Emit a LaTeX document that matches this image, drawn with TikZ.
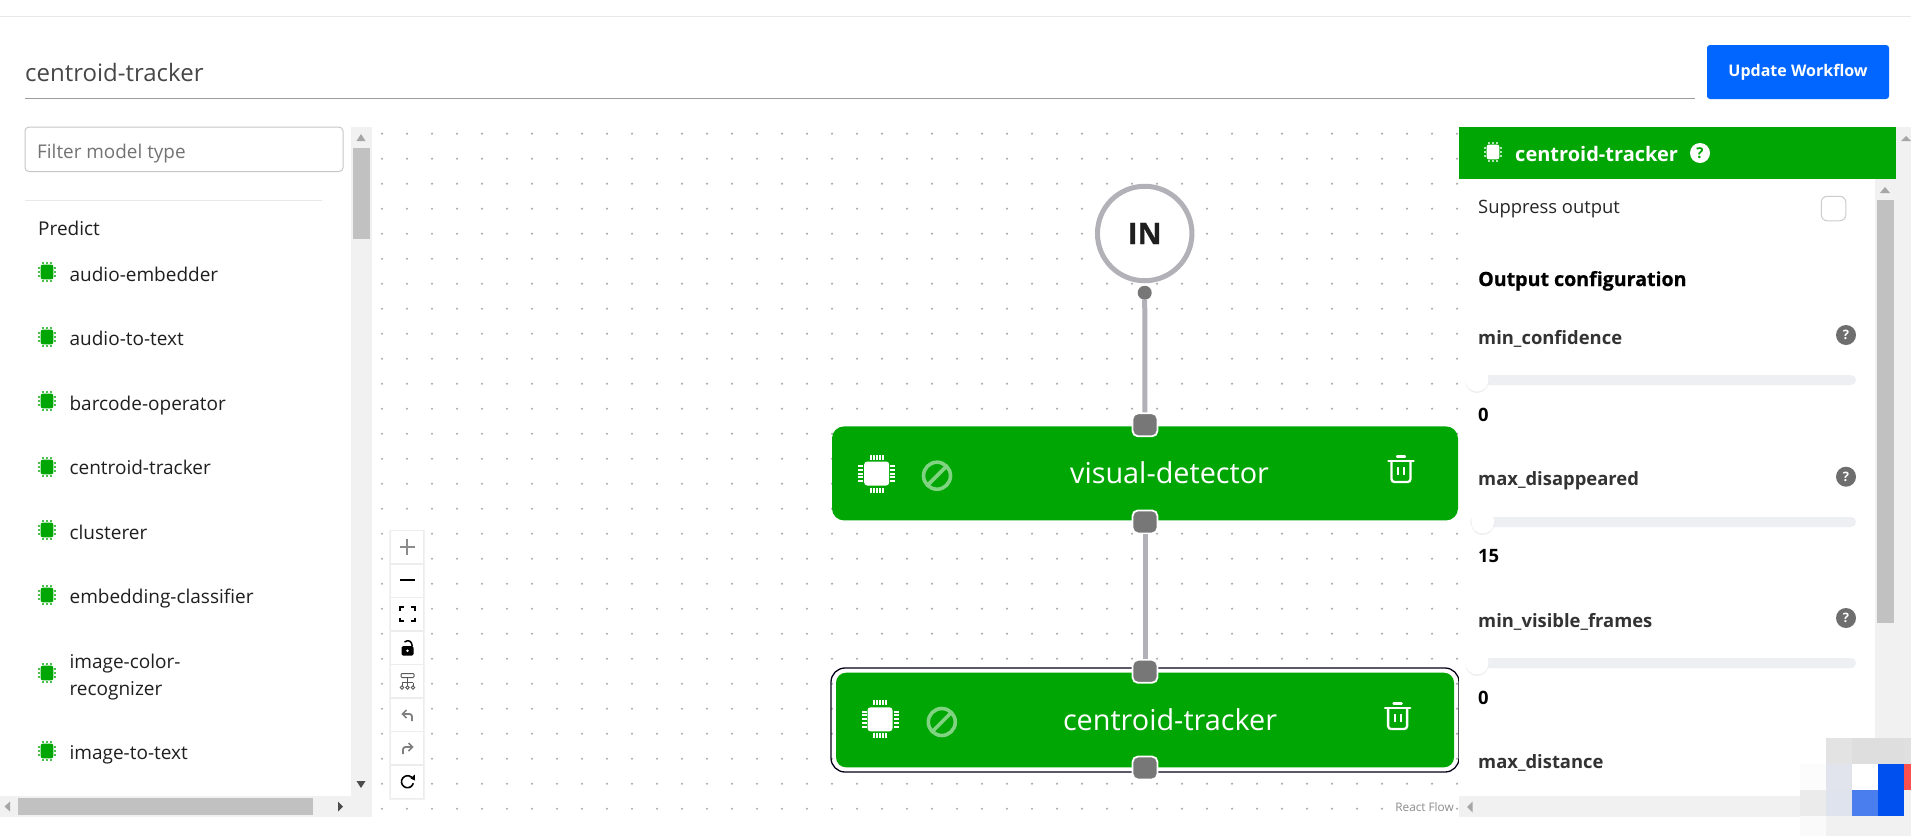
\documentclass[tikz,border=0pt]{standalone}
\usepackage{fontspec}
\setmainfont{Open Sans}
\newfontfamily\heavyfont[BoldFeatures={FakeBold=0.7}]{Open Sans}
\usetikzlibrary{positioning,shadows}
\definecolor{flowgreen}{HTML}{00A604}
\definecolor{bangreen}{HTML}{80D381}
\definecolor{edgegray}{HTML}{B1B1B7}
\definecolor{portgray}{HTML}{777777}
\definecolor{trackgray}{HTML}{F1F1F1}
\definecolor{thumbgray}{HTML}{C1C1C1}
\definecolor{slidergray}{HTML}{EEEFF3}
\definecolor{updateblue}{HTML}{0066FF}
\definecolor{badgepale}{HTML}{E1E4ED}
\definecolor{badgepaler}{HTML}{DFE3EE}
\definecolor{badgeblue}{HTML}{0050EF}
\definecolor{badgesoft}{HTML}{4A7EEF}
\definecolor{badgered}{HTML}{FF5050}
\newcommand{\fsize}[1]{\fontsize{#1}{#1}\selectfont}
\tikzset{
    chip/.pic={
        \fill[pic actions, rounded corners=3pt] (-12.5,-12) rectangle (12.5,12);
        \foreach \t in {-6,-3,0,3,6} {
            \fill[pic actions] (\t-1,-19) rectangle (\t+1,-14);
            \fill[pic actions] (\t-1,14) rectangle (\t+1,19);
            \fill[pic actions] (-18.5,\t*1.3-1) rectangle (-13.5,\t*1.3+1);
            \fill[pic actions] (13.5,\t*1.3-1) rectangle (18.5,\t*1.3+1);
        }
    },
    chipsmall/.pic={
        \fill[pic actions, rounded corners=2pt] (-6.3,-7.3) rectangle (6.3,7.3);
        \foreach \t in {-3.6,0,3.6} {
            \fill[pic actions, opacity=.7] (\t-1,-9.7) rectangle (\t+1,-7.6);
            \fill[pic actions, opacity=.7] (\t-1,7.6) rectangle (\t+1,9.7);
            \fill[pic actions, opacity=.7] (-9,\t-1) rectangle (-6.7,\t+1);
            \fill[pic actions, opacity=.7] (6.7,\t-1) rectangle (9,\t+1);
        }
    },
    trash/.pic={
        \draw[white, line width=2.3pt, line cap=round, rounded corners=3pt] (-9.5,-7) -- (-9.5,13) -- (9.5,13) -- (9.5,-7);
        \draw[white, line width=2.6pt, line cap=round] (-12.5,-8) -- (12.5,-8);
        \draw[white, line width=2.3pt, line cap=round] (-4,-12.5) -- (4,-12.5);
        \draw[white, line width=2pt] (-3,-2) -- (-3,6) (3,-2) -- (3,6);
    },
    ban/.pic={
        \draw[bangreen, line width=3.6pt] (0,0) circle (13.5pt);
        \draw[bangreen, line width=3.6pt] (9.5,-9.5) -- (-9.5,9.5);
    },
}
\tikzstyle{block} = [draw=none, fill=flowgreen, rounded corners=12pt, minimum width=626pt, minimum height=94pt, inner sep=0pt]
\tikzstyle{blocktext} = [text=white, font=\fsize{28.8}, inner sep=0pt, anchor=base]
\tikzstyle{port} = [draw=white, line width=1.8pt, fill=portgray, rounded corners=5.5pt, minimum width=25pt, minimum height=23pt, inner sep=0pt, outer sep=1pt]
\tikzstyle{wire} = [edgegray, line width=5pt]
\tikzstyle{gridtext} = [anchor=base west, inner sep=0pt]
\tikzstyle{modeltext} = [gridtext, text=black!88, font=\fsize{19}]
\tikzstyle{optname} = [gridtext, text=black!80, font=\fsize{18.4}\bfseries]
\tikzstyle{optvalue} = [gridtext, text=black, font=\fsize{18.4}\bfseries]
\tikzstyle{helpdot} = [circle, fill=black!57, text=white, minimum size=20pt, inner sep=0pt, font=\fsize{13}\bfseries]
\tikzstyle{knob} = [circle, fill=white, minimum size=23pt, inner sep=0pt, drop shadow={opacity=.13, shadow xshift=0pt, shadow yshift=-1.5pt}]
\tikzstyle{tool} = [draw=black!7, fill=white, minimum width=33pt, minimum height=32.8pt, inner sep=0pt, line width=0.7pt]
\begin{document}
\begin{tikzpicture}[x=1pt, y=-1pt]
    \useasboundingbox (0,0) rectangle (1911,836);
    \fill[white] (0,0) rectangle (1911,836);

    % top bar
    \draw[black!9, line width=1pt] (0,16.5) -- (1911,16.5);
    \node[gridtext, text=black!72, font=\fsize{24}] (title) at (25,81.5) {centroid-tracker};
    \draw[black!38, line width=1pt] (25,98.7) -- (1695,98.7);
    \node[fill=updateblue, minimum width=182pt, minimum height=54pt, inner sep=0pt, rounded corners=3pt, text=white, font=\fsize{16}\bfseries] (update) at (1798,72) {Update Workflow};

    % background dots
    \foreach \i in {0,...,43} {
        \foreach \j in {0,...,27} {
            \fill[black!33] (382+25*\i,133.7+25*\j) circle (1.2pt);
        }
    }

    % left list
    \node[draw=black!22, line width=1pt, rounded corners=4pt, minimum width=318pt, minimum height=44.5pt, inner sep=0pt] (filterbox) at (184,149.3) {};
    \node[gridtext, text=black!55, font=\fsize{18.9}] (filter) at (37,158) {Filter model type};
    \draw[black!9, line width=1pt] (25,200.5) -- (322,200.5);
    \node[modeltext] (predict) at (38,235) {Predict};

    \path[fill=flowgreen] (47,272) pic {chipsmall} (47,337) pic {chipsmall} (47,401) pic {chipsmall}
        (47,467) pic {chipsmall} (47,530) pic {chipsmall} (47,595) pic {chipsmall}
        (47,673) pic {chipsmall} (47,751) pic {chipsmall};
    \node[modeltext] (m1) at (69.4,281) {audio-embedder};
    \node[modeltext] (m2) at (69.4,345.3) {audio-to-text};
    \node[modeltext] (m3) at (69.4,410) {barcode-operator};
    \node[modeltext] (m4) at (69.4,474) {centroid-tracker};
    \node[modeltext] (m5) at (69.4,539) {clusterer};
    \node[modeltext] (m6) at (69.4,603) {embedding-classifier};
    \node[modeltext] (m7) at (69.4,668) {image-color-};
    \node[modeltext] (m7b) at (69.4,695) {recognizer};
    \node[modeltext] (m8) at (69.4,759) {image-to-text};

    % left scrollbars
    \fill[trackgray] (351,127) rectangle (371.5,817);
    \fill[trackgray] (0,796) rectangle (351,817);
    \fill[thumbgray] (352.6,148) rectangle (370,239);
    \fill[thumbgray] (18,798) rectangle (313,815);
    \fill[black!35] (361,134) -- (365.5,141) -- (356.5,141) -- cycle;
    \fill[black!70] (361,788) -- (365.5,781) -- (356.5,781) -- cycle;
    \fill[black!35] (4.5,806.5) -- (10,801.5) -- (10,811.5) -- cycle;
    \fill[black!70] (343,806.5) -- (338,801.5) -- (338,811.5) -- cycle;

    % flow controls
    \fill[black!5] (389,529.5) rectangle (425,800);
    \node[tool] (zoomin) at (407,547) {};
    \node[tool, below=0pt of zoomin] (zoomout) {};
    \node[tool, below=0pt of zoomout] (fit) {};
    \node[tool, below=0pt of fit] (lock) {};
    \node[tool, below=0pt of lock] (layout) {};
    \node[tool, below=0pt of layout] (undo) {};
    \node[tool, below=0pt of undo] (redo) {};
    \node[tool, below=0pt of redo] (reload) {};
    \draw[black!45, line width=1.6pt] (399.5,546.7) -- (414.5,546.7) (407,539) -- (407,554.5);
    \draw[black, line width=2pt] (400,579.7) -- (415,579.7);
    \draw[black, line width=1.9pt] (400,610.5) |- (404,607) (411,607) -| (415,610.5) (415,617.5) |- (411,621) (404,621) -| (400,617.5);
    \fill[black, rounded corners=1.5pt] (401.5,646) rectangle (413.5,655.5);
    \fill[white] (407.5,650.7) circle (1.3pt);
    \draw[black, line width=1.5pt] (404.5,642) .. controls (408,639.5) and (412,640.5) .. (412.3,646.5);
    \draw[black!65, line width=1pt, rounded corners=1pt] (401,673.5) rectangle (414,677.5);
    \draw[black!65, line width=1pt] (407.5,677.5) -- (407.5,686) (402,682.5) -- (413,682.5) (402,682.5) -- (402,685.5) (413,682.5) -- (413,685.5);
    \draw[black!65, line width=.9pt] (402,687.5) circle (1.8pt) (407.5,687.5) circle (1.8pt) (413,687.5) circle (1.8pt);
    \draw[black!50, line width=1.8pt, rounded corners=2.5pt] (412,721) -- (412,714) -- (403,714);
    \draw[black!50, line width=1.6pt] (406.5,710) -- (402.5,714) -- (406.5,718);
    \draw[black!50, line width=1.8pt, rounded corners=2.5pt] (403,754) -- (403,747) -- (412,747);
    \draw[black!50, line width=1.6pt] (408.5,743) -- (412.5,747) -- (408.5,751);
    \draw[black, line width=1.6pt] (412.7,778.7) arc[start angle=30, end angle=345, radius=6pt];
    \fill[black] (410.5,778.5) -- (414.8,774.5) -- (415,780.5) -- cycle;

    % nodes
    \node[circle, draw=edgegray, line width=5pt, fill=white, minimum size=94.5pt, inner sep=0pt, text=black!88, font=\fsize{29.5}\heavyfont\bfseries] (in) at (1144.7,233.5) {\raisebox{-2.5pt}{IN}};
    \node[circle, fill=portgray, minimum size=14pt, inner sep=0pt, below=0pt of in.south, yshift=-2.3pt] (indot) {};
    \node[block] (vd) at (1145,473.4) {};
    \node[port, yshift=1.4pt] (vdin) at (vd.north) {};
    \node[port, yshift=-1.3pt] (vdout) at (vd.south) {};
    \node[blocktext] (vdlabel) at (1169.5,483) {visual-detector};
    \path[fill=white] (876.7,473.5) pic {chip};
    \path (937,475.7) pic {ban};
    \path (1401,469) pic {trash};

    \node[draw=black!90!blue, line width=1.3pt, rounded corners=14pt, minimum width=628pt, minimum height=104pt, inner sep=0pt] (ctframe) at (1145,720) {};
    \node[block, minimum width=618pt, minimum height=94.6pt, rounded corners=10pt] (ct) at (1145,720) {};
    \node[port] (ctin) at (1145,671.3) {};
    \node[port] (ctout) at (1145,768) {};
    \node[blocktext] (ctlabel) at (1170,730) {centroid-tracker};
    \path[fill=white] (880,719.3) pic {chip};
    \path (941.8,722) pic {ban};
    \path (1397.6,716) pic {trash};

    \path[wire] (indot) edge (vdin);
    \path[wire] (vdout) edge (ctin);

    \node[fill=white, inner sep=1pt, text=black!45, font=\fsize{11.8}, anchor=base east] (rflow) at (1455,811.7) {React Flow};

    % right panel
    \fill[white] (1459,179) rectangle (1875,796);
    \fill[trackgray] (1896,127) rectangle (1911,836);
    \fill[trackgray] (1875,179) rectangle (1896,738);
    \fill[trackgray] (1459,796) rectangle (1800,817);
    \fill[thumbgray] (1877,200) rectangle (1894,623);
    \fill[black!35] (1906,136) -- (1911,141) -- (1901,141) -- cycle;
    \fill[black!35] (1885,187) -- (1890,193) -- (1880,193) -- cycle;
    \fill[black!35] (1467,807) -- (1472.5,801.5) -- (1472.5,812.5) -- cycle;

    \node[draw=none, fill=flowgreen, minimum width=437pt, minimum height=52pt, inner sep=0pt] (head) at (1677.5,153) {};
    \path[fill=white] (1493,152) pic {chipsmall};
    \node[gridtext, text=white, font=\fsize{20}\bfseries] (headtext) at (1515,161) {centroid-tracker};
    \node[helpdot, fill=white, text=flowgreen, font=\fsize{15}\bfseries] (headhelp) at (1700,153) {?};

    \node[gridtext, text=black!85, font=\fsize{18.4}] (suppress) at (1478,213) {Suppress output};
    \node[draw=black!20, line width=1pt, rounded corners=6pt, minimum size=24.5pt, inner sep=0pt] (check) at (1833.5,208.5) {};
    \node[gridtext, text=black, font=\fsize{19.6}\heavyfont\bfseries] (outcfg) at (1478,286) {Output configuration};

    \node[optname] (opt1) at (1478,344) {min\_confidence};
    \node[helpdot] (help1) at (1846,335) {?};
    \fill[slidergray, rounded corners=5pt] (1470,375) rectangle (1856,385);
    \node[knob] (knob1) at (1477,380) {};
    \node[optvalue] (val1) at (1478,421) {0};

    \node[optname] (opt2) at (1478,485) {max\_disappeared};
    \node[helpdot] (help2) at (1846,476.7) {?};
    \fill[slidergray, rounded corners=5pt] (1470,517) rectangle (1856,527);
    \node[knob] (knob2) at (1482.7,522) {};
    \node[optvalue] (val2) at (1478,562) {15};

    \node[optname] (opt3) at (1478,627) {min\_visible\_frames};
    \node[helpdot] (help3) at (1846,618) {?};
    \fill[slidergray, rounded corners=5pt] (1470,658) rectangle (1856,668);
    \node[knob] (knob3) at (1477,663) {};
    \node[optvalue] (val3) at (1478,704) {0};

    \node[optname] (opt4) at (1478,768) {max\_distance};

    % blurred corner badge
    \fill[black!1] (1800,764) rectangle (1826,790);
    \fill[black!8] (1800,790) rectangle (1826,816);
    \fill[black!2] (1800,816) rectangle (1826,836);
    \fill[black!11] (1826,738) rectangle (1852,764);
    \fill[black!13] (1852,738) rectangle (1904,764);
    \fill[black!12] (1904,738) rectangle (1911,764);
    \fill[badgepale] (1826,764) rectangle (1852,790);
    \fill[white] (1852,764) rectangle (1878,790);
    \fill[badgeblue] (1878,764) rectangle (1904,816);
    \fill[badgered] (1904,764) rectangle (1911,790);
    \fill[badgepaler] (1826,790) rectangle (1852,816);
    \fill[badgesoft] (1852,790) rectangle (1878,816);
    \fill[trackgray] (1826,816) rectangle (1911,836);
    \fill[trackgray] (1904,790) rectangle (1911,816);
\end{tikzpicture}
\end{document}
